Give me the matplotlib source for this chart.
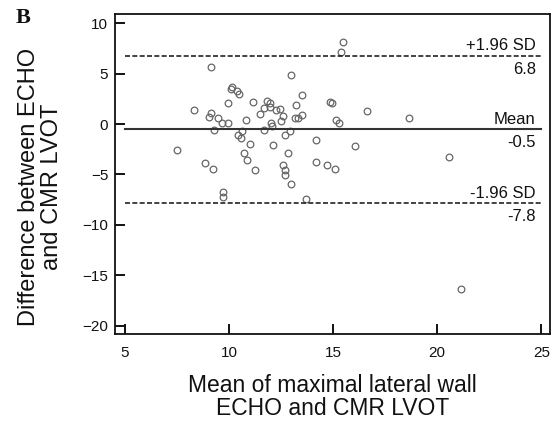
import matplotlib
matplotlib.use('Agg')
import matplotlib.pyplot as plt

# Bland-Altman: mean of the two methods vs difference
mean_vals = [7.51, 8.31, 9.12, 9.15, 9.04, 9.28, 9.49, 9.65, 9.94, 9.94,
             10.13, 10.09, 10.37, 10.50, 8.85, 9.23, 9.73, 9.73, 10.45, 10.59,
             10.65, 10.80, 10.99, 10.72, 10.89, 11.26, 11.17, 11.47, 11.67, 11.82,
             11.95, 11.96, 11.69, 12.04, 12.06, 12.13, 12.27, 12.44, 12.58, 12.52,
             12.71, 12.95, 12.84, 12.97, 13.23, 13.51, 13.15, 13.30, 13.51, 12.60,
             12.67, 12.71, 12.97, 13.72, 14.20, 14.20, 14.71, 15.11, 14.86, 14.93,
             15.16, 15.30, 16.05, 15.38, 15.48, 16.63, 18.66, 20.59, 21.16]
diff_vals = [-2.61, 1.36, 5.68, 1.09, 0.72, -0.60, 0.60, 0.13, 0.13, 2.11,
             3.70, 3.44, 3.27, 3.01, -3.84, -4.43, -6.72, -7.21, -1.06, -1.39,
             -0.66, 0.40, -2.01, -2.88, -3.57, -4.56, 2.18, 0.96, 1.59, 2.31,
             2.05, 1.66, -0.63, 0.07, -0.17, -2.05, 1.36, 1.52, 0.76, 0.33,
             -1.06, -0.66, -2.88, 4.83, 1.88, 2.88, 0.57, 0.57, 0.89, -4.04,
             -4.59, -5.09, -5.95, -7.47, -1.59, -3.80, -4.07, -4.43, 2.15, 2.08,
             0.40, 0.13, -2.18, 7.17, 8.16, 1.32, 0.57, -3.24, -16.37]

bias = -0.5
upper_loa = 6.8
lower_loa = -7.8

plt.rcParams['font.family'] = ['Liberation Sans', 'DejaVu Sans']

fig = plt.figure(figsize=(5.58, 4.25), dpi=100)
ax = fig.add_axes([0.2066, 0.2134, 0.7791, 0.7537])

ax.plot(mean_vals, diff_vals, 'o', ms=4.8, mfc='none', mec='#666666', mew=0.9)

ax.plot([5, 25], [bias, bias], color='#333333', lw=1.5)
for v in (upper_loa, lower_loa):
    ax.plot([5, 25], [v, v], color='#222222', lw=1.2, dashes=(3.0, 1.4))

tx = 24.73
labels = [('+1.96 SD', '6.8', upper_loa), ('Mean', '-0.5', bias),
          ('-1.96 SD', '-7.8', lower_loa)]
for top_txt, bot_txt, v in labels:
    ax.annotate(top_txt, (tx, v), xytext=(0, 1.5), textcoords='offset points',
                ha='right', va='bottom', fontsize=12, color='#111111')
    ax.annotate(bot_txt, (tx, v), xytext=(0, -4.5), textcoords='offset points',
                ha='right', va='top', fontsize=12, color='#111111')

ax.set_xlim(4.54, 25.42)
ax.set_ylim(-20.85, 10.92)
ax.set_xticks([5, 10, 15, 20, 25])
ax.set_yticks([-20, -15, -10, -5, 0, 5, 10])
ax.tick_params(direction='in', length=7.2, width=1.4, labelsize=11,
               colors='#111111')
ax.tick_params(axis='x', pad=8.5)
ax.tick_params(axis='y', pad=5)
for s in ax.spines.values():
    s.set_linewidth(1.3)
    s.set_color('#111111')

fig.text(0.073, 0.56, 'Difference between ECHO\nand CMR LVOT', rotation=90,
         ha='center', va='center', multialignment='center', fontsize=17,
         linespacing=1.05, color='#111111')
fig.text(0.596, 0.066, 'Mean of maximal lateral wall\nECHO and CMR LVOT',
         ha='center', va='center', multialignment='center', fontsize=16.5,
         linespacing=1.05, color='#111111')
fig.text(0.028, 0.945, 'B', fontsize=16, fontweight='bold',
         family='Liberation Serif', color='#111111')

fig.savefig('out.png', dpi=100)
